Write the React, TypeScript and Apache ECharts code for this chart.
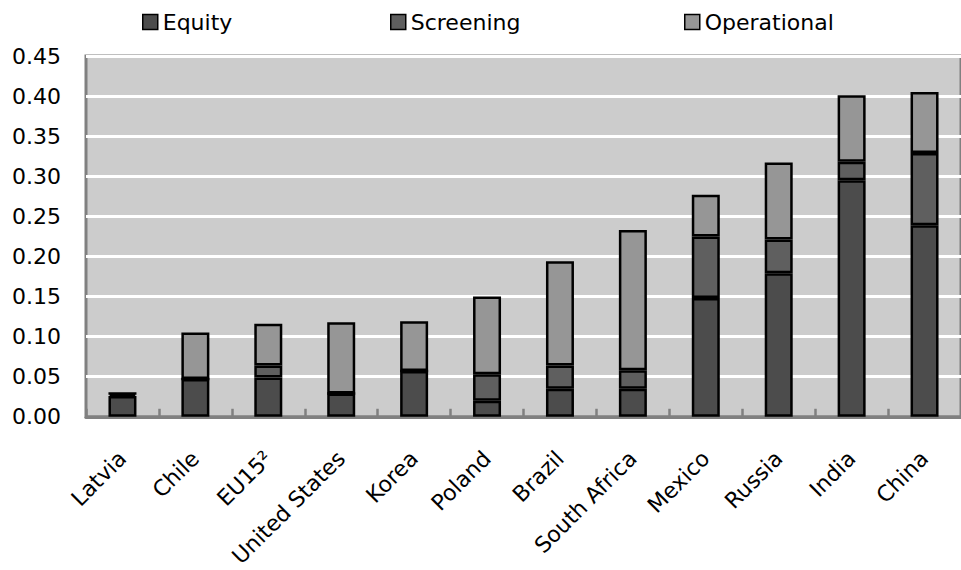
import React, { useEffect, useRef } from "react";
import * as echarts from "echarts";

const categories = ["Latvia", "Chile", "EU15²", "United States", "Korea", "Poland", "Brazil", "South Africa", "Mexico", "Russia", "India", "China"];
const equity = [0.026, 0.047, 0.049, 0.029, 0.057, 0.020, 0.035, 0.035, 0.148, 0.179, 0.295, 0.239];
const screening = [0.003, 0, 0.015, 0, 0, 0.033, 0.029, 0.023, 0.077, 0.042, 0.023, 0.090];
const operational = [0, 0.058, 0.052, 0.089, 0.062, 0.097, 0.130, 0.175, 0.052, 0.096, 0.083, 0.076];
const yTicks = { min: 0, max: 0.45, interval: 0.05 };

const FONT = "DejaVu Sans";
const colors = { Equity: "#4c4c4c", Screening: "#5f5f5f", Operational: "#969696" };

export default function App() {
  const ref = useRef<HTMLDivElement>(null);
  useEffect(() => {
    if (!ref.current) return;
    const chart = echarts.init(ref.current, null, { renderer: "svg" });
    const mkSeries = (name: string, data: number[]) => ({
      name,
      type: "bar",
      stack: "total",
      data,
      barWidth: 28,
      itemStyle: { color: (colors as any)[name], borderColor: "#000", borderWidth: 2.5 },
    });
    const mkLegend = (name: string, left: number) => ({
      data: [name],
      left,
      top: 6,
      icon: "rect",
      itemWidth: 15,
      itemHeight: 15,
      itemStyle: { borderColor: "#000", borderWidth: 1.5 },
      textStyle: { fontFamily: FONT, fontSize: 22, color: "#000" },
    });
    chart.setOption({
      animation: false,
      legend: [mkLegend("Equity", 137), mkLegend("Screening", 385), mkLegend("Operational", 679)],
      grid: {
        left: 86,
        top: 56,
        width: 881.6,
        height: 361.8,
        show: true,
        backgroundColor: "#cccccc",
        borderColor: "#808080",
        borderWidth: 3,
        containLabel: false,
      },
      xAxis: {
        type: "category",
        data: categories,
        boundaryGap: true,
        axisLine: { lineStyle: { color: "#808080", width: 3 } },
        axisTick: { show: true, inside: true, length: 8, lineStyle: { color: "#808080", width: 2.5 } },
        axisLabel: {
          rotate: 45,
          interval: 0,
          margin: 38,
          fontFamily: FONT,
          fontSize: 22,
          color: "#000",
        },
      },
      yAxis: {
        type: "value",
        min: yTicks.min,
        max: yTicks.max,
        interval: yTicks.interval,
        axisLine: { show: false },
        axisTick: { show: false },
        splitLine: { lineStyle: { color: "#ffffff", width: 3 } },
        axisLabel: {
          margin: 25,
          fontFamily: FONT,
          fontSize: 22,
          color: "#000",
          formatter: (v: number) => v.toFixed(2),
        },
      },
      series: [mkSeries("Equity", equity), mkSeries("Screening", screening), mkSeries("Operational", operational)],
    });
    return () => chart.dispose();
  }, []);
  return <div ref={ref} style={{ position: "absolute", left: 0, top: 0, width: 961, height: 570 }} />;
}
